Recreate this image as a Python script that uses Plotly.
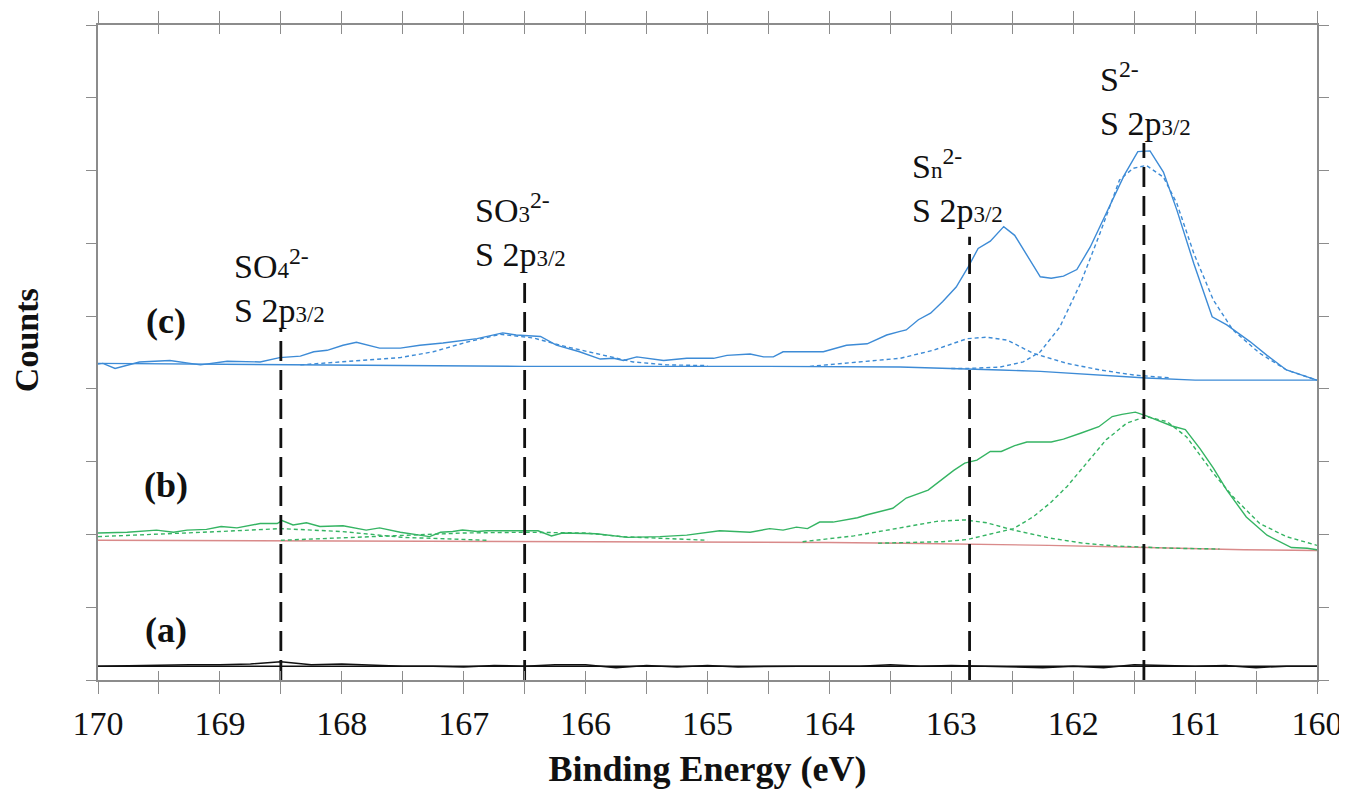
import plotly.graph_objects as go

# ---------------- data (binding energy in eV, counts in arbitrary offset units) ----------------
# (a) spectrum
a_E = [170.0, 169.75, 169.5, 169.25, 169.0, 168.75, 168.5, 168.25, 168.0, 167.75, 167.5, 167.25,
       167.0, 166.75, 166.5, 166.25, 166.0, 165.75, 165.5, 165.25, 165.0, 164.75, 164.5, 164.25,
       164.0, 163.75, 163.5, 163.25, 163.0, 162.75, 162.5, 162.25, 162.0, 161.75, 161.5, 161.25,
       161.0, 160.75, 160.5, 160.25, 160.0]
a_I = [0.19, 0.20, 0.20, 0.21, 0.21, 0.22, 0.25, 0.21, 0.22, 0.20, 0.19, 0.19,
       0.18, 0.20, 0.19, 0.21, 0.21, 0.17, 0.20, 0.18, 0.20, 0.18, 0.19, 0.19,
       0.19, 0.19, 0.21, 0.19, 0.20, 0.19, 0.19, 0.17, 0.19, 0.17, 0.21, 0.20,
       0.19, 0.20, 0.17, 0.19, 0.19]
a_bg_E = [170.0, 160.0]
a_bg_I = [0.19, 0.19]

# (b) spectrum
b_E = [170.0, 169.76, 169.52, 169.38, 169.27, 169.11, 168.99, 168.86, 168.67, 168.53, 168.49, 168.40,
       168.29, 168.18, 167.99, 167.80, 167.69, 167.52, 167.28, 167.19, 167.09, 167.01, 166.89, 166.81,
       166.48, 166.39, 166.28, 166.19, 165.91, 165.66, 165.39, 165.17, 164.90, 164.65, 164.49, 164.38,
       164.27, 164.18, 164.08, 163.97, 163.77, 163.69, 163.48, 163.42, 163.37, 163.19, 162.98, 162.89,
       162.79, 162.68, 162.59, 162.48, 162.38, 162.18, 162.08, 161.94, 161.79, 161.68, 161.60, 161.49,
       161.40, 161.19, 161.08, 160.96, 160.85, 160.74, 160.58, 160.41, 160.21, 160.08, 160.00]
b_I = [2.02, 2.03, 2.06, 2.03, 2.06, 2.07, 2.11, 2.09, 2.15, 2.15, 2.19, 2.13,
       2.16, 2.11, 2.12, 2.06, 2.09, 2.03, 1.97, 2.03, 2.04, 2.06, 2.04, 2.05,
       2.05, 2.05, 1.98, 2.02, 2.01, 1.96, 1.97, 1.99, 2.05, 2.03, 2.08, 2.06,
       2.10, 2.08, 2.17, 2.17, 2.23, 2.27, 2.36, 2.43, 2.50, 2.61, 2.88, 2.98,
       3.02, 3.14, 3.14, 3.22, 3.27, 3.27, 3.31, 3.39, 3.48, 3.62, 3.65, 3.68,
       3.63, 3.49, 3.44, 3.18, 2.91, 2.61, 2.24, 1.99, 1.82, 1.81, 1.79]
b_bg_E = [170.0, 168.0, 166.0, 164.0, 163.4, 162.8, 162.2, 161.4, 160.6, 160.0]
b_bg_I = [1.92, 1.91, 1.91, 1.89, 1.88, 1.87, 1.85, 1.82, 1.79, 1.78]
b_so4_E = [170.0, 169.5, 169.0, 168.5, 168.0, 167.5, 167.2, 166.8]
b_so4_I = [1.97, 2.00, 2.04, 2.08, 2.04, 1.96, 1.94, 1.92]
b_so3_E = [168.5, 168.0, 167.5, 167.0, 166.5, 166.0, 165.7, 165.3, 165.0]
b_so3_I = [1.92, 1.95, 1.99, 2.02, 2.03, 2.02, 1.97, 1.94, 1.92]
b_sn_E = [164.22, 163.8, 163.42, 163.12, 162.89, 162.71, 162.49, 162.19, 161.92, 161.64, 161.18, 160.8]
b_sn_I = [1.90, 1.98, 2.09, 2.18, 2.20, 2.16, 2.06, 1.95, 1.88, 1.84, 1.81, 1.80]
b_s2_E = [163.6, 163.07, 162.87, 162.71, 162.49, 162.33, 162.19, 162.05, 161.89, 161.73, 161.56,
          161.40, 161.23, 161.07, 160.85, 160.69, 160.47, 160.25, 160.0]
b_s2_I = [1.88, 1.90, 1.93, 1.99, 2.08, 2.24, 2.43, 2.66, 2.98, 3.30, 3.53,
          3.62, 3.55, 3.34, 2.84, 2.52, 2.15, 1.97, 1.85]

# (c) spectrum
c_E = [170.0, 169.96, 169.86, 169.66, 169.41, 169.16, 168.94, 168.67, 168.51, 168.34, 168.23, 168.12,
       167.99, 167.88, 167.69, 167.52, 167.36, 167.17, 166.89, 166.68, 166.57, 166.37, 166.24, 166.05,
       165.88, 165.77, 165.69, 165.58, 165.36, 165.17, 164.95, 164.84, 164.65, 164.54, 164.46, 164.38,
       164.05, 163.86, 163.69, 163.53, 163.42, 163.37, 163.27, 163.17, 163.07, 162.96, 162.86, 162.78,
       162.68, 162.57, 162.48, 162.27, 162.18, 162.08, 161.97, 161.86, 161.73, 161.58, 161.47, 161.37,
       161.26, 161.15, 161.01, 160.86, 160.74, 160.55, 160.41, 160.25, 160.00]
c_I = [4.34, 4.35, 4.28, 4.37, 4.39, 4.33, 4.38, 4.37, 4.43, 4.45, 4.51, 4.53,
       4.60, 4.64, 4.56, 4.56, 4.60, 4.63, 4.69, 4.77, 4.74, 4.72, 4.60, 4.51,
       4.41, 4.42, 4.39, 4.44, 4.39, 4.42, 4.42, 4.46, 4.48, 4.44, 4.44, 4.51,
       4.51, 4.60, 4.62, 4.74, 4.79, 4.81, 4.95, 5.04, 5.20, 5.40, 5.68, 5.93,
       6.03, 6.23, 6.11, 5.54, 5.52, 5.55, 5.64, 5.95, 6.41, 6.94, 7.26, 7.27,
       6.98, 6.46, 5.72, 4.99, 4.88, 4.65, 4.46, 4.26, 4.12]
c_bg_E = [170.0, 168.5, 166.5, 164.5, 163.42, 162.6, 162.27, 161.4, 161.0, 160.0]
c_bg_I = [4.35, 4.33, 4.31, 4.31, 4.30, 4.26, 4.24, 4.15, 4.12, 4.12]
c_so3_E = [168.34, 167.93, 167.52, 167.25, 166.98, 166.70, 166.43, 166.16, 165.88, 165.61, 165.33, 165.0]
c_so3_I = [4.33, 4.38, 4.43, 4.51, 4.64, 4.75, 4.70, 4.58, 4.47, 4.37, 4.33, 4.32]
c_sn_E = [164.16, 163.8, 163.42, 163.15, 162.87, 162.71, 162.54, 162.33, 162.05, 161.78, 161.50, 161.2]
c_sn_I = [4.31, 4.36, 4.42, 4.53, 4.69, 4.71, 4.67, 4.49, 4.35, 4.26, 4.19, 4.15]
c_s2_E = [163.0, 162.87, 162.60, 162.41, 162.27, 162.11, 161.94, 161.78, 161.62, 161.51, 161.40,
          161.26, 161.15, 161.01, 160.85, 160.69, 160.47, 160.25, 160.0]
c_s2_I = [4.28, 4.28, 4.30, 4.37, 4.51, 4.85, 5.45, 6.14, 6.87, 7.03, 7.07,
          6.91, 6.55, 5.86, 5.22, 4.81, 4.49, 4.26, 4.12]

# reference peak positions and label texts
peak_E = [168.5, 166.5, 162.85, 161.42]
peak_top = [4.84, 5.56, 6.09, 7.38]
peak_labels = [
    "SO<span style='font-size:23px'>4</span><sup>2-</sup><br>S 2p<span style='font-size:23px'>3/2</span>",
    "SO<span style='font-size:23px'>3</span><sup>2-</sup><br>S 2p<span style='font-size:23px'>3/2</span>",
    "S<span style='font-size:23px'>n</span><sup>2-</sup><br>S 2p<span style='font-size:23px'>3/2</span>",
    "S<sup>2-</sup><br>S 2p<span style='font-size:23px'>3/2</span>",
]
label_E = [168.90, 166.92, 163.34, 161.80]
label_y = [5.41, 6.19, 6.79, 7.98]

sample_names = ["(a)", "(b)", "(c)"]
sample_E = [169.44, 169.44, 169.44]
sample_y = [0.69, 2.68, 4.93]

# ---------------- styles ----------------
BLUE = "#3d8bd6"
GREEN = "#35b463"
RED = "#d98a8a"
BLACK = "#111111"
GREY = "#8c8c8c"
SERIF = "Liberation Serif, Times New Roman, serif"

fig = go.Figure()

def line(x, y, color, width=1.4, dash=None):
    fig.add_trace(go.Scatter(x=x, y=y, mode="lines", showlegend=False, hoverinfo="skip",
                             line=dict(color=color, width=width, dash=dash)))

# (a)
line(a_bg_E, a_bg_I, BLACK, 1.5)
line(a_E, a_I, BLACK, 1.5)
# (b)
line(b_bg_E, b_bg_I, RED, 1.4)
for ex, iy in [(b_so4_E, b_so4_I), (b_so3_E, b_so3_I), (b_sn_E, b_sn_I), (b_s2_E, b_s2_I)]:
    line(ex, iy, GREEN, 1.4, "4px,3px")
line(b_E, b_I, GREEN, 1.4)
# (c)
line(c_bg_E, c_bg_I, BLUE, 1.4)
for ex, iy in [(c_so3_E, c_so3_I), (c_sn_E, c_sn_I), (c_s2_E, c_s2_I)]:
    line(ex, iy, BLUE, 1.4, "4px,3px")
line(c_E, c_I, BLUE, 1.4)

# peak reference lines
for e, top in zip(peak_E, peak_top):
    line([e, e], [0, top], BLACK, 2.8, "20px,9px")

# invisible trace that activates the overlay axis carrying the inside half of the cross ticks
fig.add_trace(go.Scatter(x=[170, 160], y=[0, 0], xaxis="x2", mode="lines",
                         line=dict(width=0), showlegend=False, hoverinfo="skip"))

for txt, e, y in zip(peak_labels, label_E, label_y):
    fig.add_annotation(x=e, y=y, text=txt, showarrow=False, xanchor="left", yanchor="middle",
                       align="left", font=dict(family=SERIF, size=34, color="#111111"))

for txt, e, y in zip(sample_names, sample_E, sample_y):
    fig.add_annotation(x=e, y=y, text="<b>%s</b>" % txt, showarrow=False,
                       font=dict(family=SERIF, size=36, color="#111111"))

# y-axis title
fig.add_annotation(xref="paper", yref="paper", x=-0.059, y=0.519, text="<b>Counts</b>",
                   textangle=-90, showarrow=False, xanchor="center", yanchor="middle",
                   font=dict(family=SERIF, size=34, color="#111111"))

# the page body adds an 8 px offset, so the figure is sized and its margins shifted accordingly
fig.update_layout(
    width=1339, height=781,
    margin=dict(l=90, r=30, t=17, b=109, autoexpand=False),
    paper_bgcolor="white", plot_bgcolor="white",
    showlegend=False,
    font=dict(family=SERIF, color="#111111"),
    xaxis=dict(range=[170, 160], tick0=160, dtick=1, automargin=False,
               ticklabeloverflow="allow",
               ticks="outside", ticklen=12, tickwidth=1.4, tickcolor=GREY,
               minor=dict(tick0=160, dtick=0.5, ticks="outside", ticklen=12,
                          tickwidth=1.4, tickcolor=GREY, showgrid=False),
               showline=True, linecolor=GREY, linewidth=1.5, mirror="ticks",
               showgrid=False, zeroline=False,
               tickfont=dict(family=SERIF, size=34, color="#111111"),
               title=dict(text="<b>Binding Energy (eV)</b>", standoff=26,
                          font=dict(family=SERIF, size=36, color="#111111"))),
    xaxis2=dict(range=[170, 160], overlaying="x", anchor="y", side="bottom", automargin=False,
                tick0=160, dtick=0.5, showticklabels=False,
                ticks="inside", ticklen=9, tickwidth=1.4, tickcolor=GREY,
                showline=False, mirror="ticks", showgrid=False, zeroline=False),
    yaxis=dict(range=[0, 9], dtick=1, tick0=0, showticklabels=False, automargin=False,
               ticks="outside", ticklen=10, tickwidth=1.4, tickcolor=GREY,
               showline=True, linecolor=GREY, linewidth=1.5, mirror="ticks",
               showgrid=False, zeroline=False),
)

fig.write_html("out.html")
